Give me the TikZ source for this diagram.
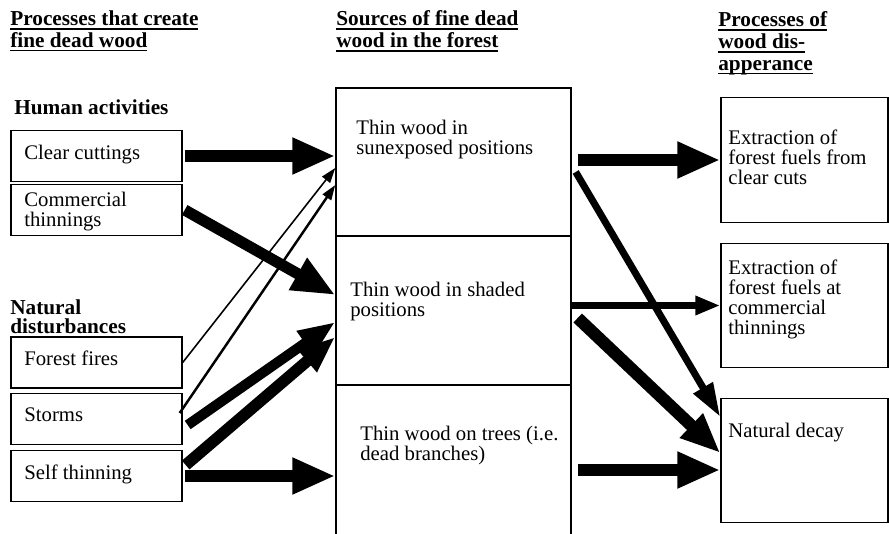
\documentclass[tikz,border=0pt]{standalone}
\usepackage{fontspec}
\setmainfont{Liberation Serif}
\usetikzlibrary{arrows.meta}
% underline at a fixed depth, descenders ignored
\newcommand{\uln}[1]{\setbox0\hbox{#1}\rlap{\rule[-2.4pt]{\wd0}{0.9pt}}\box0}

\begin{document}
\begin{tikzpicture}[
    box/.style={draw, line width=0.8pt, inner sep=0pt},
    leftbox/.style={box, minimum width=3.42cm, minimum height=1.02cm},
    midbox/.style={box, minimum width=4.70cm},
    rightbox/.style={box, minimum width=3.34cm, minimum height=2.49cm},
    txt/.style={anchor=north west, inner sep=0pt, align=left, font=\fontsize{11.8pt}{11.4pt}\selectfont},
    head/.style={txt, font=\bfseries\fontsize{12.1pt}{12.3pt}\selectfont},
    bigarrow/.style={line width=6.4pt, -{Triangle[length=0.86cm, width=0.68cm]}},
    midarrow/.style={line width=5.8pt, -{Triangle[length=0.74cm, width=0.54cm]}},
    slimarrow/.style={line width=4pt, -{Triangle[length=0.68cm, width=0.42cm]}},
    thinarrow/.style={line width=0.9pt, -{Triangle[length=0.3cm, width=0.2cm]}}
]
    \useasboundingbox (0,0) rectangle (17.78,10.68);

    % Column headings
    \node[head] (h1) at (0.20,10.47) {\uln{Processes that create}\\\uln{fine dead wood}};
    \node[head] (h2) at (6.72,10.47) {\uln{Sources of fine dead}\\\uln{wood in the forest}};
    \node[head] (h3) at (14.36,10.45) {\uln{Processes of}\\\uln{wood dis-}\\\uln{apperance}};

    % Processes that create
    \node[head] (human) at (0.28,8.69) {Human activities};
    \node[head, font=\bfseries\fontsize{12.1pt}{11.2pt}\selectfont] (natural) at (0.20,4.70) {Natural\\disturbances};

    \node[leftbox] (clear) at (1.93,7.56) {};
    \node[leftbox] (comm) at (1.93,6.48) {};
    \node[leftbox] (fires) at (1.93,3.43) {};
    \node[leftbox] (storms) at (1.93,2.30) {};
    \node[leftbox] (self) at (1.93,1.16) {};
    \node[txt] (cleartxt) at (0.48,7.79) {Clear cuttings};
    \node[txt] (commtxt) at (0.48,6.85) {Commercial\\thinnings};
    \node[txt] (firestxt) at (0.48,3.67) {Forest fires};
    \node[txt] (stormstxt) at (0.48,2.53) {Storms};
    \node[txt] (selftxt) at (0.48,1.39) {Self thinning};

    % Sources in the forest
    \node[midbox, minimum height=2.96cm] (sun) at (9.07,7.44) {};
    \node[midbox, minimum height=2.98cm] (shaded) at (9.07,4.47) {};
    \node[midbox, minimum height=3.10cm] (trees) at (9.07,1.43) {};
    \node[txt] (suntxt) at (7.12,8.29) {Thin wood in\\sunexposed positions};
    \node[txt] (shadedtxt) at (7.00,5.05) {Thin wood in shaded\\positions};
    \node[txt] (treestxt) at (7.20,2.17) {Thin wood on trees (i.e.\\dead branches)};

    % Disappearance
    \node[rightbox] (rcut) at (16.09,7.48) {};
    \node[rightbox] (rcomm) at (16.09,4.57) {};
    \node[rightbox] (decay) at (16.09,1.47) {};
    \node[txt] (rcuttxt) at (14.56,8.09) {Extraction of\\forest fuels from\\clear cuts};
    \node[txt] (rcommtxt) at (14.56,5.49) {Extraction of\\forest fuels at\\commercial\\thinnings};
    \node[txt] (decaytxt) at (14.56,2.23) {Natural decay};

    % Arrows into the sources
    \draw[bigarrow, shorten <=0.04cm] (clear.east) -- (sun.west |- clear.east);
    \draw[bigarrow] ([xshift=0.04cm]comm.east) -- ([yshift=0.31cm]shaded.west);
    \draw[thinarrow] (fires.east) -- ([yshift=-0.12cm]sun.west);
    \draw[thinarrow, line width=1.4pt] ([xshift=-0.06cm, yshift=0.12cm]storms.east) -- ([yshift=-0.46cm]sun.west);
    \draw[midarrow] ([xshift=0.1cm, yshift=-0.12cm]storms.east) -- ([yshift=-0.23cm]shaded.west);
    \draw[midarrow, line width=6.6pt] ([xshift=0.06cm, yshift=0.22cm]self.east) -- ([yshift=-0.53cm]shaded.west);
    \draw[bigarrow, shorten <=0.04cm] (self.east) -- (trees.west |- self.east);

    % Arrows out of the sources
    \coordinate (s1) at ([xshift=0.12cm]sun.east);
    \coordinate (t1) at ([xshift=0.12cm]trees.east);
    \coordinate (dtip) at ([yshift=-0.19cm]decay.west);
    \draw[bigarrow] (s1 |- rcut.west) -- (rcut.west);
    \draw[slimarrow] ([xshift=0.08cm, yshift=-0.2cm]sun.east) -- ([yshift=0.87cm]decay.west);
    \draw[line width=4pt, -{Triangle[length=0.5cm, width=0.36cm]}] (shaded.east |- rcomm.west) -- (rcomm.west);
    \draw[line width=7pt, -{Triangle[length=0.8cm, width=0.62cm]}] ([xshift=0.12cm, yshift=-0.15cm]shaded.east) -- ([yshift=0.15cm]decay.west);
    \draw[bigarrow] (t1 |- dtip) -- (dtip);
\end{tikzpicture}
\end{document}
